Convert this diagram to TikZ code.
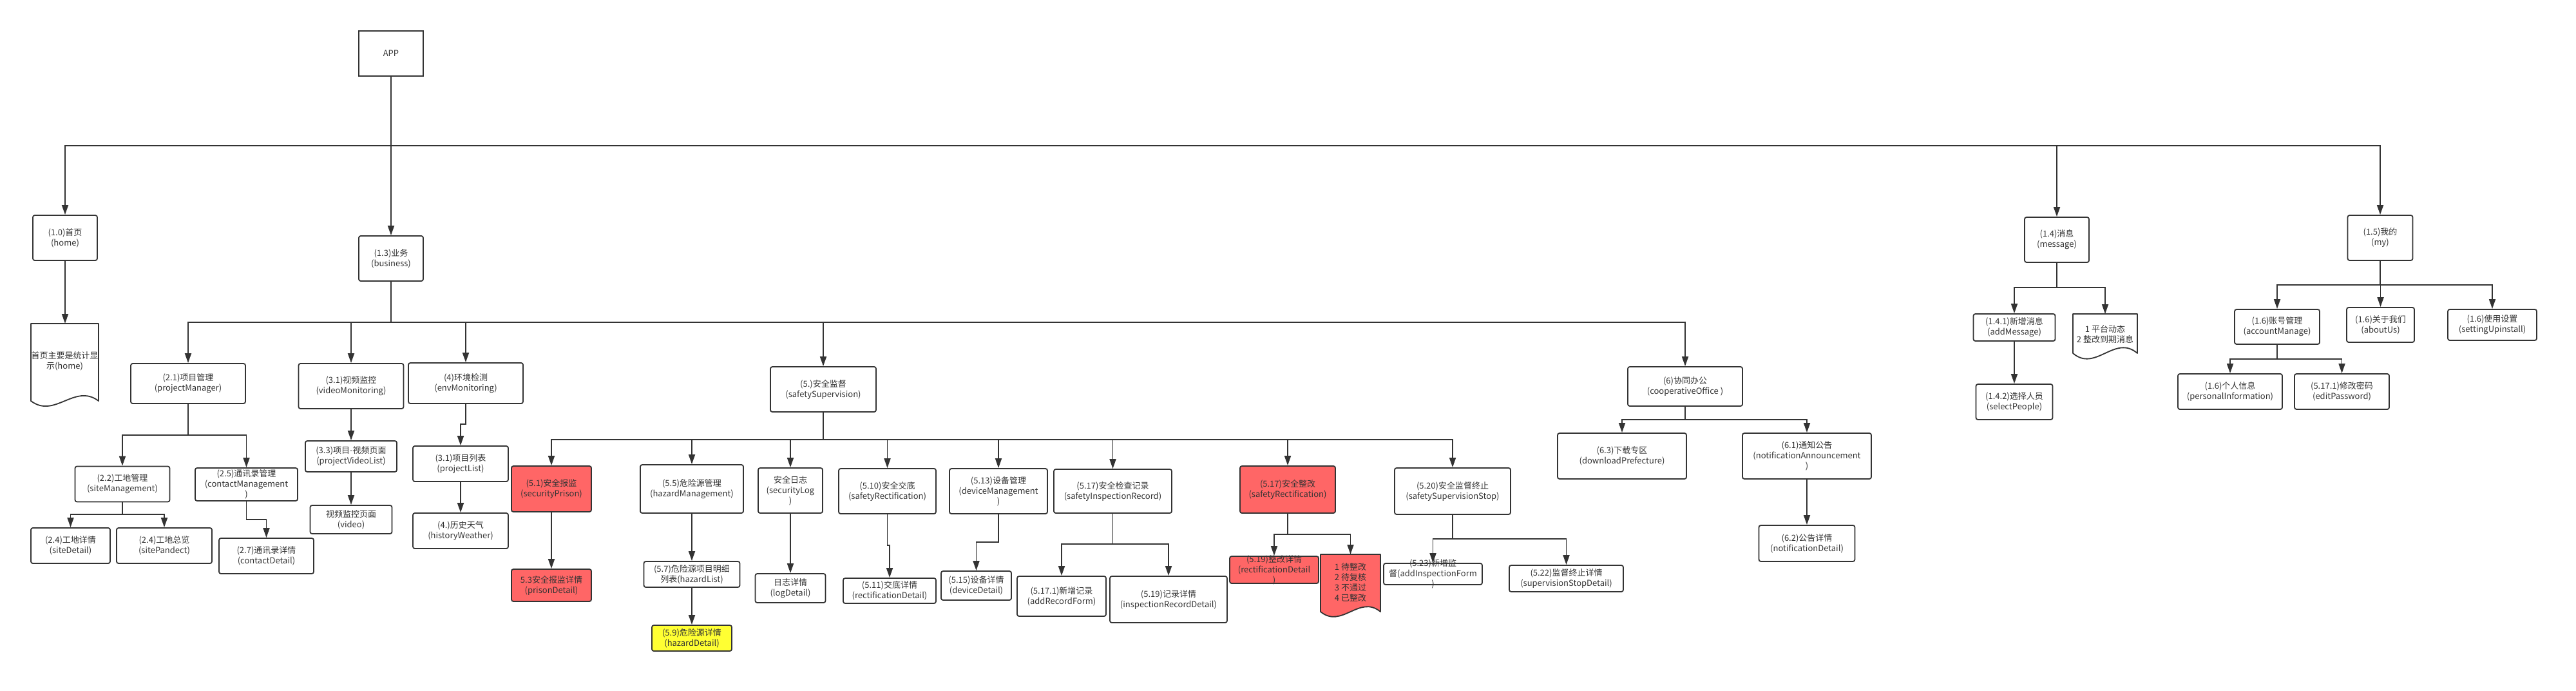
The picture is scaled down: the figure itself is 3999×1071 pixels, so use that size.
\documentclass[tikz,border=0pt]{standalone}
\usepackage{fontspec}
\setmainfont{Noto Sans CJK SC}
\usetikzlibrary{arrows.meta}
\definecolor{lc}{HTML}{333333}
\definecolor{redc}{HTML}{FF6666}
\definecolor{yelc}{HTML}{FFFF33}
\newcommand\myfs{\fontsize{13}{16}\selectfont}
\newcommand{\mybox}[7][]{\node[box,minimum width=#5pt,minimum height=#6pt,#1] (#2) at (#3,#4) {#7};}
\begin{document}
\begin{tikzpicture}[x=1pt,y=-1pt,
  box/.style={draw=lc,line width=1.8pt,rounded corners=3pt,fill=white,align=center,inner sep=1pt,font=\myfs,text=lc},
  redbox/.style={fill=redc},
  yelbox/.style={fill=yelc},
  txt/.style={align=center,inner sep=0pt,font=\myfs,text=lc},
  docshape/.style={draw=lc,line width=1.8pt,line join=round},
  arr/.style={draw=lc,line width=1.8pt,-{Triangle[length=15pt,width=10pt]}}]
\useasboundingbox (0,0) rectangle (3999,1071);
\fill[white] (0,0) rectangle (3999,1071);

% top level
\mybox[sharp corners]{app}{607}{83}{100}{70}{APP}
\mybox{home}{101}{369}{100}{70}{(1.0)首页\\(home)}
\mybox{business}{607}{401}{100}{70}{(1.3)业务\\(business)}
\mybox{message}{3193}{372}{100}{70}{(1.4)消息\\(message)}
\mybox{my}{3695}{369}{101}{70}{(1.5)我的\\(my)}

% home document
\draw[docshape,fill=white] (48,502) -- (153,502) -- (153,622) .. controls (116,594) and (85,650) .. (48,622) -- cycle;
\coordinate (homedoc) at (100.5,502);
\node[txt] (homedoctext) at (100.5,560) {首页主要是统计显\\示(home)};

% business children
\mybox{projMgr}{292}{595}{178}{62}{(2.1)项目管理\\(projectManager)}
\mybox{videoMon}{545}{599}{163}{70}{(3.1)视频监控\\(videoMonitoring)}
\mybox{envMon}{723}{594.5}{178}{63}{(4)环境检测\\(envMonitoring)}
\mybox{safetySup}{1278}{604}{164}{70}{(5.)安全监督\\(safetySupervision)}
\mybox{coop}{2616}{599.5}{178}{61}{(6)协同办公\\(cooperativeOffice )}

\mybox{siteMgmt}{190}{751}{147}{55}{(2.2)工地管理\\(siteManagement)}
\mybox{contactMgmt}{382.5}{751.5}{159}{51}{(2.5)通讯录管理\\(contactManagement\\)}
\mybox{siteDetail}{109.5}{846.5}{123}{55}{(2.4)工地详情\\(siteDetail)}
\mybox{sitePandect}{255}{846.5}{148}{55}{(2.4)工地总览\\(sitePandect)}
\mybox{contactDetail}{413.5}{862.5}{147}{55}{(2.7)通讯录详情\\(contactDetail)}
\mybox{projVideoList}{545}{708}{142}{48}{(3.3)项目-视频页面\\(projectVideoList)}
\mybox{video}{545}{806}{127}{44}{视频监控页面\\(video)}
\mybox{projectList}{715}{719.5}{148}{55}{(3.1)项目列表\\(projectList)}
\mybox{historyWeather}{715}{823.5}{148}{55}{(4.)历史天气\\(historyWeather)}

% safety supervision
\mybox[redbox]{secPrison}{856}{758.5}{124}{71}{(5.1)安全报监\\(securityPrison)}
\mybox[redbox]{prisonDetail}{856}{908}{124}{50}{5.3安全报监详情\\(prisonDetail)}
\mybox{hazardMgmt}{1074}{758.5}{160}{75}{(5.5)危险源管理\\(hazardManagement)}
\mybox{hazardList}{1074}{891}{149}{40}{(5.7)危险源项目明细\\列表(hazardList)}
\mybox[yelbox]{hazardDetail}{1074}{990}{124}{40}{(5.9)危险源详情\\(hazardDetail)}
\mybox{secLog}{1227}{761}{100}{70}{安全日志\\(securityLog\\)}
\mybox{logDetail}{1227}{912.5}{109}{45}{日志详情\\(logDetail)}
\mybox{rectA}{1377.5}{762}{151}{70}{(5.10)安全交底\\(safetyRectification)}
\mybox{rectB}{1381}{916.5}{144}{39}{(5.11)交底详情\\(rectificationDetail)}
\mybox{deviceMgmt}{1550}{762}{152}{70}{(5.13)设备管理\\(deviceManagement\\)}
\mybox{deviceDetail}{1515.5}{908.5}{109}{45}{(5.15)设备详情\\(deviceDetail)}
\mybox{inspRecord}{1727.5}{762}{183}{68}{(5.17)安全检查记录\\(safetyInspectionRecord)}
\mybox{addRecordForm}{1648}{925}{138}{62}{(5.17.1)新增记录\\(addRecordForm)}
\mybox{inspRecordDetail}{1814}{930}{182}{72}{(5.19)记录详情\\(inspectionRecordDetail)}
\mybox[redbox]{safetyRectRed}{1999}{759.5}{148}{73}{(5.17)安全整改\\(safetyRectification)}
\mybox[redbox]{rectC}{1978}{884}{138}{42}{}
\node[txt] (rectCtext) at (rectC.center) {(5.19)整改详情\\(rectificationDetail\\)};
\draw[docshape,fill=redc] (2050,860) -- (2143,860) -- (2143,949) .. controls (2110,922) and (2083,976) .. (2050,949) -- cycle;
\coordinate (statusdoc) at (2096.5,860);
\node[txt] (statustext) at (2096.5,904) {1 待整改\\2 待复核\\3 不通过\\4 已整改};
\mybox{supStop}{2255}{762}{180}{72}{(5.20)安全监督终止\\(safetySupervisionStop)}
\mybox{addInspForm}{2224.5}{890.5}{153}{33}{}
\node[txt] (addInspText) at (addInspForm.center) {(5.23)新增监\\督(addInspectionForm\\)};
\mybox{supStopDetail}{2431.5}{897.5}{177}{41}{(5.22)监督终止详情\\(supervisionStopDetail)}

% cooperative office
\mybox{download}{2518}{707.5}{200}{71}{(6.3)下载专区\\(downloadPrefecture)}
\mybox{notifAnn}{2805}{707.5}{200}{71}{(6.1)通知公告\\(notificationAnnouncement\\)}
\mybox{notifDetail}{2805}{843}{149}{56}{(6.2)公告详情\\(notificationDetail)}

% message
\mybox{addMessage}{3127}{508}{127}{42}{(1.4.1)新增消息\\(addMessage)}
\mybox{selectPeople}{3127}{623.5}{119}{55}{(1.4.2)选择人员\\(selectPeople)}
\draw[docshape,fill=white] (3218,487) -- (3318,487) -- (3318,548) .. controls (3283,518) and (3253,578) .. (3218,548) -- cycle;
\coordinate (msgdoc) at (3268,487);
\node[txt] (msgdoctext) at (3268,518.5) {1 平台动态\\2 整改到期消息};

% my
\mybox{accountManage}{3535}{507}{132}{54}{(1.6)账号管理\\(accountManage)}
\mybox{aboutUs}{3695.5}{504}{105}{54}{(1.6)关于我们\\(aboutUs)}
\mybox{settingUpinstall}{3869}{504}{138}{48}{(1.6)使用设置\\(settingUpinstall)}
\mybox{personalInfo}{3462}{607.5}{162}{55}{(1.6)个人信息\\(personalInformation)}
\mybox{editPassword}{3635.5}{607.5}{147}{55}{(5.17.1)修改密码\\(editPassword)}

% connectors: top level
\draw[arr] (app.south) -- (app.south |- 0,226) -| (home.north);
\draw[arr] (app.south) -- (business.north);
\draw[arr] (app.south) -- (app.south |- 0,226) -| (message.north);
\draw[arr] (app.south) -- (app.south |- 0,226) -| (my.north);
\draw[arr] (home.south) -- (home.south |- homedoc);

% business
\foreach \c in {projMgr,videoMon,envMon,safetySup,coop}
  \draw[arr] (business.south) -- (business.south |- 0,500) -| (\c.north);
\draw[arr] (projMgr.south) -- (projMgr.south |- 0,675) -| (siteMgmt.north);
\draw[arr] (projMgr.south) -- (projMgr.south |- 0,675) -| (contactMgmt.north);
\draw[arr] (siteMgmt.south) -- (siteMgmt.south |- 0,798) -| (siteDetail.north);
\draw[arr] (siteMgmt.south) -- (siteMgmt.south |- 0,798) -| (sitePandect.north);
\draw[arr] (contactMgmt.south) -- (contactMgmt.south |- 0,806) -| (contactDetail.north);
\draw[arr] (videoMon.south) -- (projVideoList.north);
\draw[arr] (projVideoList.south) -- (video.north);
\draw[arr] (envMon.south) -- (envMon.south |- 0,658) -| (projectList.north);
\draw[arr] (projectList.south) -- (historyWeather.north);

% safety supervision
\foreach \c in {secPrison,hazardMgmt,secLog,rectA,deviceMgmt,inspRecord,safetyRectRed,supStop}
  \draw[arr] (safetySup.south) -- (safetySup.south |- 0,682) -| (\c.north);
\draw[arr] (secPrison.south) -- (prisonDetail.north);
\draw[arr] (hazardMgmt.south) -- (hazardList.north);
\draw[arr] (hazardList.south) -- (hazardDetail.north);
\draw[arr] (secLog.south) -- (logDetail.north);
\draw[arr] (rectA.south) -- (rectA.south |- 0,846) -| (rectB.north);
\draw[arr] (deviceMgmt.south) -- (deviceMgmt.south |- 0,841) -| (deviceDetail.north);
\draw[arr] (inspRecord.south) -- (inspRecord.south |- 0,844) -| (addRecordForm.north);
\draw[arr] (inspRecord.south) -- (inspRecord.south |- 0,844) -| (inspRecordDetail.north);
\draw[arr] (safetyRectRed.south) -- (safetyRectRed.south |- 0,829) -| (rectC.north);
\draw[arr] (safetyRectRed.south) -- (safetyRectRed.south |- 0,829) -| (statusdoc);
\draw[arr] (supStop.south) -- (supStop.south |- 0,836) -| (addInspForm.north);
\draw[arr] (supStop.south) -- (supStop.south |- 0,836) -| (supStopDetail.north);

% cooperative office
\draw[arr] (coop.south) -- (coop.south |- 0,651) -| (download.north);
\draw[arr] (coop.south) -- (coop.south |- 0,651) -| (notifAnn.north);
\draw[arr] (notifAnn.south) -- (notifDetail.north);

% message
\draw[arr] (message.south) -- (message.south |- 0,446) -| (addMessage.north);
\draw[arr] (message.south) -- (message.south |- 0,446) -| (msgdoc);
\draw[arr] (addMessage.south) -- (selectPeople.north);

% my
\foreach \c in {accountManage,aboutUs,settingUpinstall}
  \draw[arr] (my.south) -- (my.south |- 0,442) -| (\c.north);
\draw[arr] (accountManage.south) -- (accountManage.south |- 0,557) -| (personalInfo.north);
\draw[arr] (accountManage.south) -- (accountManage.south |- 0,557) -| (editPassword.north);
\end{tikzpicture}
\end{document}
